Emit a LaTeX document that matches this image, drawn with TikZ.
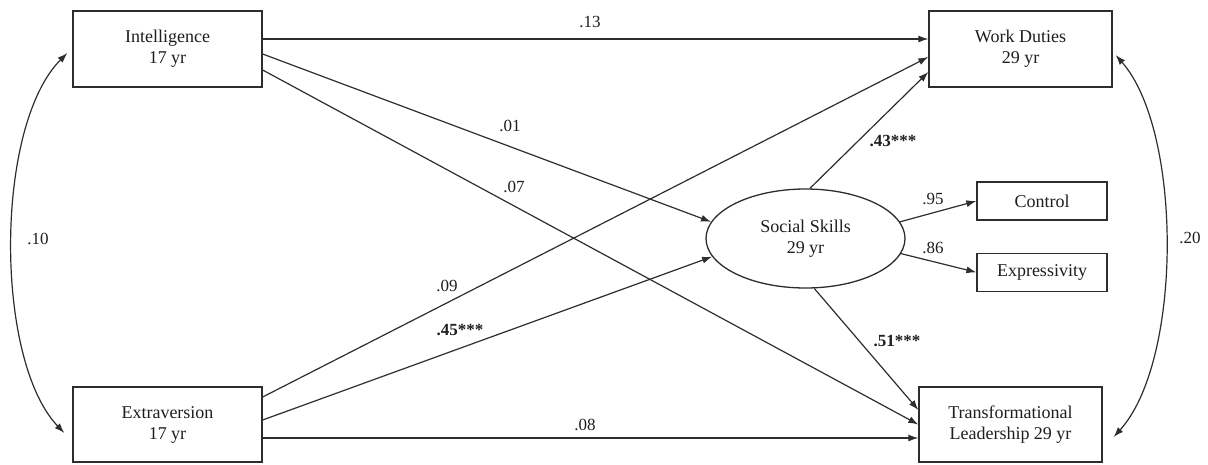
\documentclass[tikz,border=0pt]{standalone}
\usepackage{fontspec}
\setmainfont{Liberation Serif}
\usepackage{xcolor}
\usepackage{tikz}
\usetikzlibrary{arrows.meta,calc,positioning,shapes.geometric}
\definecolor{lineink}{RGB}{45,45,45}
\definecolor{textink}{RGB}{30,30,30}
\tikzset{
  measure/.style={rectangle,draw=lineink,line width=1.3pt,fill=white,
    align=center,inner sep=2pt,text=textink,font=\fontsize{18}{21}\selectfont},
  latent/.style={ellipse,draw=lineink,line width=1.3pt,fill=white,
    minimum width=199pt,minimum height=99pt,inner sep=1pt,align=center,
    text=textink,font=\fontsize{18}{21}\selectfont},
  effect/.style={-{Latex[length=10pt,width=7pt]},line width=1.2pt,draw=lineink},
  corr/.style={{Latex[length=10pt,width=7pt]}-{Latex[length=10pt,width=7pt]},
    line width=1.2pt,draw=lineink},
  coef/.style={text=textink,font=\fontsize{17}{20}\selectfont,inner sep=0pt},
  sigcoef/.style={coef,font=\fontsize{17}{20}\selectfont\bfseries}
}

\begin{document}
\begin{tikzpicture}[x=1pt,y=-1pt]
  \useasboundingbox (0,0) rectangle (1208,464);
  \node[measure,minimum width=189pt,minimum height=76pt] (int) at (167.5,49) {Intelligence\\17 yr};
  \node[measure,minimum width=189pt,minimum height=75pt] (ext) at (167.5,424.5) {Extraversion\\17 yr};
  \node[measure,minimum width=183pt,minimum height=76pt] (wd) at (1020.5,49) {Work Duties\\29 yr};
  \node[measure,minimum width=183pt,minimum height=75pt] (tl) at (1010.5,424.5) {Transformational\\Leadership 29 yr};
  \node[latent] (soc) at (805.5,238.5) {Social Skills\\29 yr};
  \node[measure,minimum width=130pt,minimum height=38pt] (ctrl) at (1042,201) {Control};
  \node[measure,minimum width=130pt,minimum height=38pt,below=32pt of ctrl] (expr) {Expressivity};
  \draw[effect] ([yshift=10pt]int.east) -- ([yshift=10pt]wd.west);
  \draw[effect] ([yshift=-5pt]int.east) -- (soc.170);
  \draw[effect] ([yshift=-21pt]int.east) -- (tl.west);
  \draw[effect] ([yshift=27.5pt]ext.east) -- ([yshift=-8pt]wd.west);
  \draw[effect] ([yshift=4.5pt]ext.east) -- (soc.191);
  \draw[effect] ([yshift=-13.5pt]ext.east) -- ([yshift=-13.5pt]tl.west);
  \draw[effect] (soc.85) -- ([yshift=-23pt]wd.west);
  \draw[effect] (soc.-80) -- ([yshift=14.5pt]tl.west);
  \draw[effect] (soc.10) -- (ctrl.west);
  \draw[effect] (soc.-9) -- (expr.west);
  \draw[corr] ([xshift=-5pt,yshift=-4pt]int.west) .. controls +(-73,73) and +(-70,-73) .. ([xshift=-8pt,yshift=-8.5pt]ext.west);
  \draw[corr] ([xshift=3pt,yshift=-6pt]wd.east) .. controls +(67,76) and +(69,-76) .. ([xshift=11pt,yshift=-12.5pt]tl.east);
  \node[coef] (c13) at (590,22) {.13};
  \node[coef] (c01) at (510,126) {.01};
  \node[coef] (c07) at (514,187) {.07};
  \node[coef] (c09) at (447,286) {.09};
  \node[sigcoef] (c45) at (460,330) {.45***};
  \node[coef] (c08) at (585,425) {.08};
  \node[sigcoef] (c43) at (893,141) {.43***};
  \node[sigcoef] (c51) at (897,341) {.51***};
  \node[coef] (c95) at (933,199) {.95};
  \node[coef] (c86) at (933,248) {.86};
  \node[coef] (c10) at (38,239) {.10};
  \node[coef] (c20) at (1190,238) {.20};
\end{tikzpicture}
\end{document}
